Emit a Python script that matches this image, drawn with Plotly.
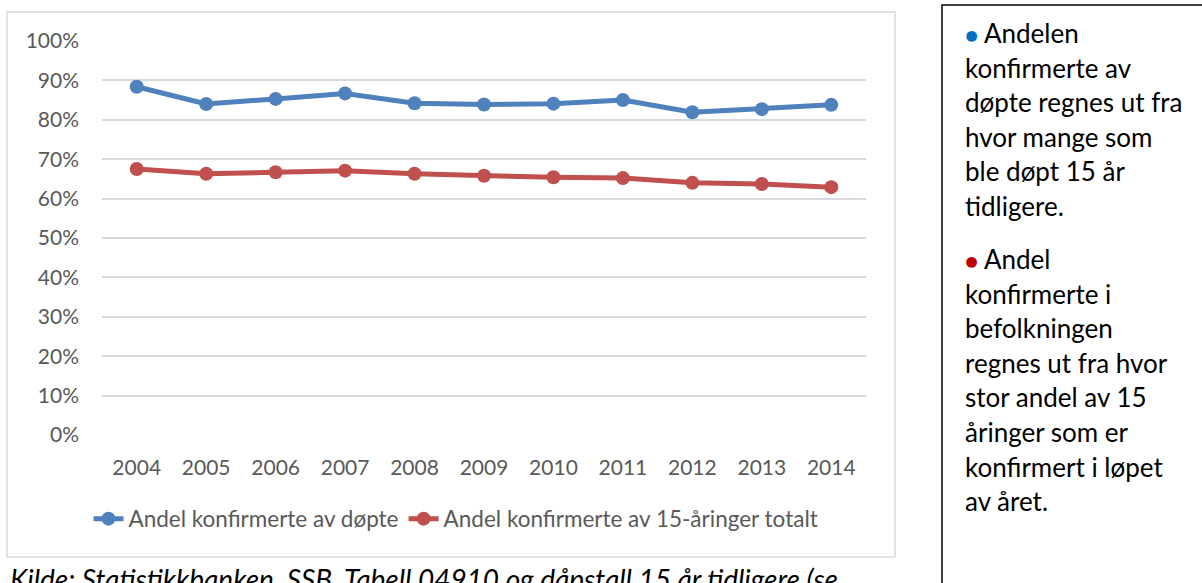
import plotly.graph_objects as go

years = ["2004", "2005", "2006", "2007", "2008", "2009", "2010", "2011", "2012", "2013", "2014"]
andel_dopte = [0.884, 0.840, 0.853, 0.867, 0.842, 0.839, 0.841, 0.850, 0.819, 0.827, 0.838]
andel_15 = [0.675, 0.663, 0.667, 0.671, 0.663, 0.658, 0.654, 0.652, 0.640, 0.637, 0.629]
name_dopte = "Andel konfirmerte av døpte"
name_15 = "Andel konfirmerte av 15-åringer totalt"
source_text = "Kilde: Statistikkbanken, SSB, Tabell 04910 og dåpstall 15 år tidligere (se"
note_para1 = ["Andelen", "konfirmerte av", "døpte regnes ut fra", "hvor mange som", "ble døpt 15 år", "tidligere."]
note_para2 = ["Andel", "konfirmerte i", "befolkningen", "regnes ut fra hvor", "stor andel av 15", "åringer som er", "konfirmert i løpet", "av året."]

W, H = 1202, 583
PL, PR, PT, PB = 102, 866, 41, 435  # plot area pixel bounds


def px(x):
    return (x - PL) / (PR - PL)


def py(y):
    return (PB - y) / (PB - PT)


FONT = "Lato"
BLUE = "#4F81BD"
RED = "#C0504D"
GREY = "#595959"

fig = go.Figure()
fig.add_trace(go.Scatter(x=years, y=andel_dopte, name=name_dopte, mode="lines+markers",
                         line=dict(color=BLUE, width=5), marker=dict(size=14, color=BLUE)))
fig.add_trace(go.Scatter(x=years, y=andel_15, name=name_15, mode="lines+markers",
                         line=dict(color=RED, width=5), marker=dict(size=14, color=RED)))

fig.update_layout(
    width=W, height=H,
    margin=dict(l=PL, r=W - PR, t=PT, b=H - PB, pad=0),
    paper_bgcolor="white", plot_bgcolor="white",
    font=dict(family=FONT, size=21, color=GREY),
    showlegend=True,
    legend=dict(orientation="h", x=px(456), xanchor="center", y=py(519), yanchor="middle",
                font=dict(family=FONT, size=22.5, color=GREY), itemwidth=30,
                bgcolor="rgba(0,0,0,0)"),
    xaxis=dict(type="category", range=[-0.5, 10.5], showgrid=False, zeroline=False,
               showline=False, ticks="", ticklabelstandoff=18,
               tickfont=dict(family=FONT, size=21, color=GREY)),
    yaxis=dict(range=[0, 1.0], dtick=0.1, tick0=0, tickformat=".0%", showgrid=True,
               gridcolor="#D9D9D9", gridwidth=1.5, zeroline=False, showline=False,
               ticks="", ticklabelstandoff=22,
               tickfont=dict(family=FONT, size=21, color=GREY)),
)

shapes = []
# chart outer frame
shapes.append(dict(type="rect", xref="paper", yref="paper",
                   x0=px(7), x1=px(895), y0=py(557), y1=py(12),
                   line=dict(color="#D9D9D9", width=1.5), fillcolor="rgba(0,0,0,0)", layer="below"))
# right note box
shapes.append(dict(type="rect", xref="paper", yref="paper",
                   x0=px(942), x1=px(1215), y0=py(600), y1=py(5),
                   line=dict(color="black", width=1.5), fillcolor="rgba(0,0,0,0)"))
fig.update_layout(shapes=shapes)

ann = []
ann.append(dict(text="<i>" + source_text + "</i>", xref="paper", yref="paper",
                x=px(8), y=py(560), xanchor="left", yanchor="top", showarrow=False,
                font=dict(family=FONT, size=28, color="black")))

NOTE_X = 963
spacing = 34.6
NOTE_SIZE = 26
for i, line in enumerate(note_para1):
    txt = line
    if i == 0:
        txt = "<span style='color:#0070C0;font-size:22px'>●</span> " + line
    ann.append(dict(text=txt, xref="paper", yref="paper", x=px(NOTE_X), y=py(33 + i * spacing),
                    xanchor="left", yanchor="middle", showarrow=False,
                    font=dict(family=FONT, size=NOTE_SIZE, color="black")))
for i, line in enumerate(note_para2):
    txt = line
    if i == 0:
        txt = "<span style='color:#C00000;font-size:22px'>●</span> " + line
    ann.append(dict(text=txt, xref="paper", yref="paper", x=px(NOTE_X), y=py(259 + i * spacing),
                    xanchor="left", yanchor="middle", showarrow=False,
                    font=dict(family=FONT, size=NOTE_SIZE, color="black")))
fig.update_layout(annotations=ann)

fig.write_html("out.html", config={"displayModeBar": False},
               post_script="document.body.style.margin='0';document.body.style.overflow='hidden';")
